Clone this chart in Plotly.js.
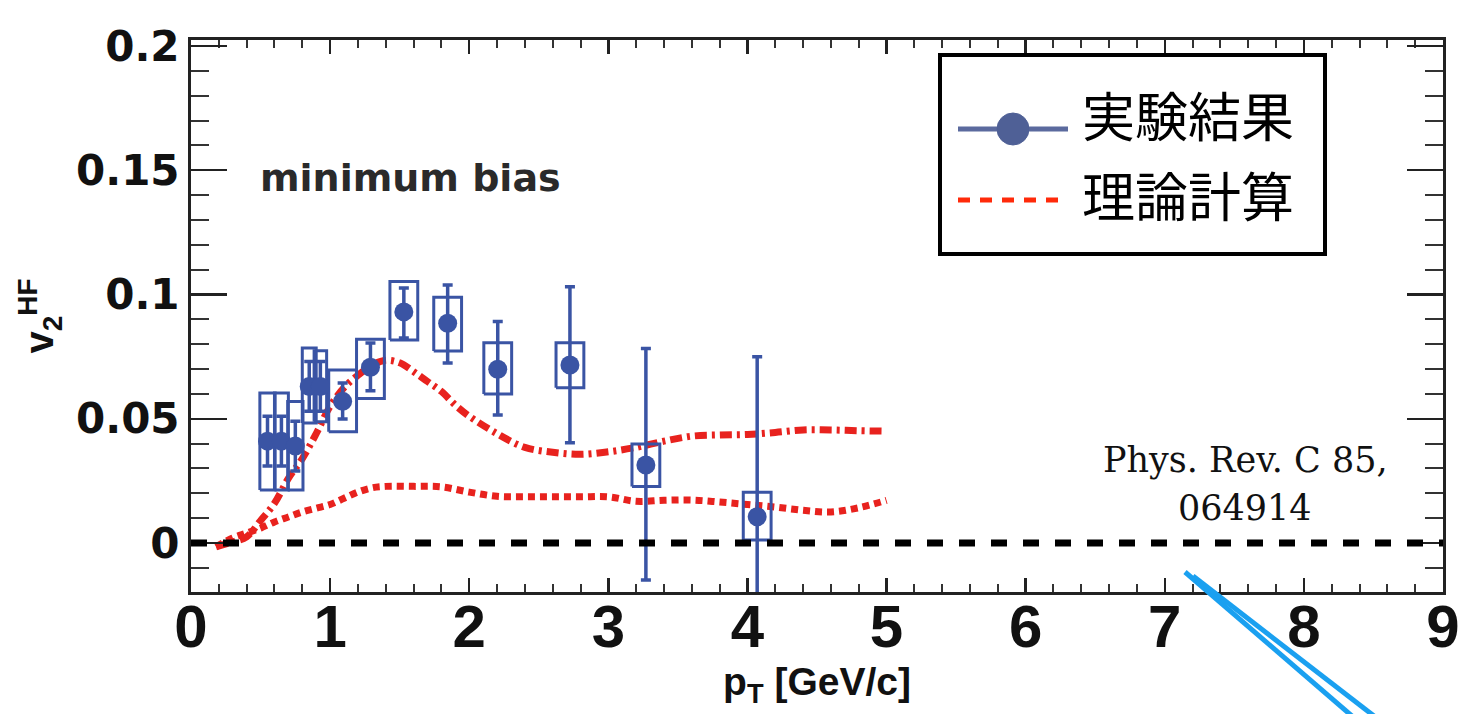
<!DOCTYPE html>
<html>
<head>
<meta charset="utf-8">
<script src="https://cdn.plot.ly/plotly-3.0.1.min.js"></script>
<style>html,body{margin:0;padding:0;background:#fff;}</style>
</head>
<body>
<div id="chart" style="width:1466px;height:714px;"></div>
<script>
// ---- experimental data (v2 of heavy-flavour electrons, minimum bias) ----
const ptData   = [0.55, 0.65, 0.75, 0.85, 0.93, 1.09, 1.29, 1.53, 1.845, 2.205, 2.724, 3.27, 4.07];
const v2Data   = [0.041, 0.041, 0.039, 0.063, 0.063, 0.057, 0.0707, 0.093, 0.0884, 0.0699, 0.0716, 0.0314, 0.0106];
const statHigh = [0.051, 0.051, 0.049, 0.073, 0.073, 0.0644, 0.0805, 0.1026, 0.1038, 0.0891, 0.1031, 0.0783, 0.075];
const statLow  = [0.031, 0.031, 0.029, 0.053, 0.053, 0.0499, 0.0613, 0.0825, 0.0724, 0.0515, 0.0404, -0.0149, -0.035];
const sysHigh  = [0.0604, 0.0604, 0.0569, 0.0785, 0.0774, 0.0696, 0.082, 0.1052, 0.0989, 0.0806, 0.0806, 0.0398, 0.0204];
const sysLow   = [0.0213, 0.0213, 0.0213, 0.0483, 0.0488, 0.0448, 0.0582, 0.0817, 0.0773, 0.060, 0.0625, 0.0227, 0.0012];
const boxHalfWidth = [0.055, 0.05, 0.055, 0.05, 0.045, 0.1, 0.1, 0.1, 0.1, 0.1, 0.1, 0.1, 0.1];

// ---- theory curves ----
const ptTheoryA = [0.18, 0.3, 0.4, 0.5, 0.6, 0.7, 0.8, 0.9, 1.0, 1.1, 1.2, 1.3, 1.4, 1.5, 1.6, 1.7, 1.8, 1.9, 2.0, 2.2, 2.4, 2.6, 2.8, 3.0, 3.2, 3.4, 3.6, 3.8, 4.0, 4.2, 4.4, 4.6, 4.8, 5.0];
const v2TheoryA = [-0.0015, 0.0005, 0.0025, 0.009, 0.016, 0.026, 0.034, 0.044, 0.055, 0.0625, 0.0675, 0.0715, 0.0735, 0.0725, 0.069, 0.065, 0.061, 0.0555, 0.051, 0.044, 0.0385, 0.0365, 0.0357, 0.0367, 0.0385, 0.041, 0.043, 0.0435, 0.0437, 0.0445, 0.0455, 0.0455, 0.0452, 0.045];
const ptTheoryB = [0.18, 0.3, 0.4, 0.5, 0.6, 0.7, 0.8, 0.9, 1.0, 1.1, 1.2, 1.3, 1.4, 1.6, 1.8, 2.0, 2.2, 2.4, 2.6, 2.8, 3.0, 3.2, 3.4, 3.6, 3.8, 4.0, 4.2, 4.4, 4.6, 4.8, 5.0];
const v2TheoryB = [-0.0015, 0.002, 0.004, 0.006, 0.0085, 0.0105, 0.0125, 0.014, 0.0155, 0.018, 0.0205, 0.0222, 0.0228, 0.0228, 0.0226, 0.0205, 0.0188, 0.0186, 0.0186, 0.0186, 0.0186, 0.0168, 0.0172, 0.0173, 0.0165, 0.0155, 0.0145, 0.0132, 0.0125, 0.0142, 0.0172];

// ---- text ----
const legendExp = '実験結果';
const legendTheory = '理論計算';
const labelCentrality = 'minimum bias';
const labelRefLine1 = 'Phys. Rev. C 85,';
const labelRefLine2 = '064914';
const xTitle = 'p<sub>T</sub> [GeV/c]';
const yTitle = 'v<sub>2</sub><sup>HF</sup>';
const yTickVals = [0, 0.05, 0.1, 0.15, 0.2];
const yTickText = ['0', '0.05', '0.1', '0.15', '0.2'];
const xTickVals = [0, 1, 2, 3, 4, 5, 6, 7, 8, 9];

const BLUE = '#3a54a4';
const RED = '#e8221e';

// plot-area geometry (pixels) -> paper coordinates for the legend box
const M = {l: 191, r: 23, t: 40, b: 122};
const PW = 1466 - M.l - M.r, PH = 714 - M.t - M.b;
const px = X => (X - M.l) / PW;
const py = Y => (714 - M.b - Y) / PH;

// systematic boxes built from the arrays
const boxX = [], boxY = [];
ptData.forEach((x, i) => {
  const w = boxHalfWidth[i];
  boxX.push(x - w, x + w, x + w, x - w, x - w, null);
  boxY.push(sysLow[i], sysLow[i], sysHigh[i], sysHigh[i], sysLow[i], null);
});

const traces = [
  {x: ptTheoryB, y: v2TheoryB, mode: 'lines', name: legendTheory, showlegend: false, hoverinfo: 'skip',
   line: {color: RED, width: 7, dash: '7px,5px', shape: 'spline'}},
  {x: ptTheoryA, y: v2TheoryA, mode: 'lines', name: legendTheory, showlegend: false, hoverinfo: 'skip',
   line: {color: RED, width: 7, dash: '12px,5px,3px,5px', shape: 'spline'}},
  {x: boxX, y: boxY, mode: 'lines', showlegend: false, hoverinfo: 'skip',
   line: {color: BLUE, width: 3}},
  {x: ptData, y: v2Data, mode: 'markers', showlegend: false, name: legendExp,
   marker: {color: BLUE, size: 19},
   error_y: {type: 'data', symmetric: false,
     array: v2Data.map((v, i) => statHigh[i] - v),
     arrayminus: v2Data.map((v, i) => v - statLow[i]),
     color: BLUE, thickness: 3.5, width: 5}}
];

const legendFont = {family: 'Noto Sans CJK JP', size: 53, color: '#000'};

const layout = {
  width: 1466, height: 714,
  margin: M,
  paper_bgcolor: '#fff', plot_bgcolor: '#fff',
  showlegend: false,
  xaxis: {range: [0, 9], tickvals: xTickVals, showgrid: false, zeroline: false,
    showline: true, linewidth: 3, linecolor: '#222', mirror: 'allticks',
    ticks: 'inside', ticklen: 14, tickwidth: 2.5, tickcolor: '#222',
    minor: {dtick: 0.2, ticks: 'inside', ticklen: 8, tickwidth: 2, tickcolor: '#333', showgrid: false},
    tickfont: {family: 'Liberation Sans', size: 60, weight: 'bold', color: '#111'},
    ticklabelstandoff: -20,
    title: {text: xTitle, font: {family: 'Liberation Sans', size: 39, weight: 'bold', color: '#111'}, standoff: 8}},
  yaxis: {range: [-0.0197, 0.2024], tickvals: yTickVals, ticktext: yTickText, showgrid: false, zeroline: false,
    showline: true, linewidth: 3, linecolor: '#222', mirror: 'allticks',
    ticks: 'inside', ticklen: 36, tickwidth: 2.5, tickcolor: '#222',
    minor: {dtick: 0.01, ticks: 'inside', ticklen: 18, tickwidth: 2, tickcolor: '#333', showgrid: false},
    tickfont: {family: 'DejaVu Sans', size: 42, weight: 'bold', color: '#111'},
    title: {text: yTitle, font: {family: 'Liberation Sans', size: 40, weight: 'bold', color: '#111'}, standoff: 10}},
  shapes: [
    {type: 'line', xref: 'x', yref: 'y', x0: 0, x1: 9, y0: 0, y1: 0, layer: 'above',
     line: {color: '#000', width: 7, dash: '16px,16px'}},
    // legend box
    {type: 'rect', xref: 'paper', yref: 'paper', x0: px(940), x1: px(1325), y0: py(55), y1: py(254), layer: 'above',
     fillcolor: '#fff', line: {color: '#000', width: 4}},
    {type: 'line', xref: 'paper', yref: 'paper', x0: px(958), x1: px(1068), y0: py(129), y1: py(129), layer: 'above',
     line: {color: '#5b6a9e', width: 5}},
    {type: 'circle', xref: 'paper', yref: 'paper', x0: px(997), x1: px(1029), y0: py(113), y1: py(145), layer: 'above',
     fillcolor: '#4f6096', line: {color: '#4f6096', width: 1}},
    {type: 'line', xref: 'paper', yref: 'paper', x0: px(958), x1: px(1068), y0: py(200), y1: py(200), layer: 'above',
     line: {color: '#ff2a0a', width: 5, dash: '12px,10px'}},
    // pen strokes
    {type: 'line', xref: 'paper', yref: 'paper', x0: px(1185), y0: py(572), x1: px(1352), y1: py(716),
     line: {color: '#1aa0f0', width: 5}},
    {type: 'line', xref: 'paper', yref: 'paper', x0: px(1193), y0: py(576), x1: px(1374), y1: py(716),
     line: {color: '#1aa0f0', width: 5}}
  ],
  annotations: [
    {xref: 'paper', yref: 'paper', x: px(1080), y: py(114), xanchor: 'left', yanchor: 'middle', showarrow: false,
     text: legendExp, font: legendFont},
    {xref: 'paper', yref: 'paper', x: px(1080), y: py(194), xanchor: 'left', yanchor: 'middle', showarrow: false,
     text: legendTheory, font: legendFont},
    {xref: 'x', yref: 'y', x: 0.48, y: 0.147, xanchor: 'left', yanchor: 'middle', showarrow: false,
     text: labelCentrality, font: {family: 'DejaVu Sans', size: 38, weight: 'bold', color: '#2a2a2a'}},
    {xref: 'x', yref: 'y', x: 7.577, y: 0.0334, xanchor: 'center', yanchor: 'middle', showarrow: false,
     text: labelRefLine1, font: {family: 'DejaVu Serif', size: 35, color: '#111'}},
    {xref: 'x', yref: 'y', x: 7.577, y: 0.0141, xanchor: 'center', yanchor: 'middle', showarrow: false,
     text: labelRefLine2, font: {family: 'DejaVu Serif', size: 35, color: '#111'}}
  ]
};

Plotly.newPlot('chart', traces, layout, {displayModeBar: false, staticPlot: true});
</script>
</body>
</html>
